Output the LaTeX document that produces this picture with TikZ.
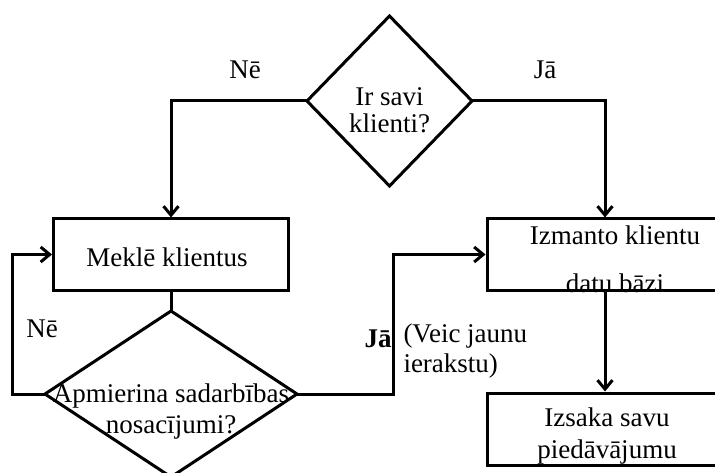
\documentclass[tikz,border=0pt]{standalone}
\usepackage{fontspec}
\setmainfont{Liberation Serif}
\usetikzlibrary{arrows.meta,shapes.geometric}
\begin{document}
\begin{tikzpicture}[x=1pt,y=-1pt,
  line width=3pt,
  lbl/.style={font=\fontsize{27}{32}\selectfont, inner sep=0pt},
  boxst/.style={draw, rectangle, inner sep=0pt},
  dia/.style={draw, diamond, inner sep=0pt, outer sep=0pt, aspect=1},
  arr/.style={-{Straight Barb[length=9pt,width=15pt,line width=3pt]}}
]
\useasboundingbox (0,0) rectangle (715,473);
\clip (0,0) rectangle (715,473);
\fill[white] (0,0) rectangle (715,473);

% top decision
\node[dia, minimum width=165pt, minimum height=170pt] (d1) at (389.5,101) {};
\node[lbl, align=center] (d1t) at (389.5,110) {Ir savi\\[-5pt]klienti?};

% boxes
\node[boxst, minimum width=235pt, minimum height=71pt] (b1) at (171,254.5) {};
\node[lbl] (b1t) at (167,257) {Meklē klientus};

\node[boxst, minimum width=236pt, minimum height=71pt] (b2) at (605,254.5) {};
\node[lbl] (b2t1) at (615,235) {Izmanto klientu};
\node[lbl] (b2t2) at (615,283) {datu bāzi};

\node[boxst, minimum width=236pt, minimum height=72pt] (b3) at (605,429) {};
\node[lbl, align=center] (b3t) at (607,436) {Izsaka savu\\piedāvājumu};

% bottom decision
\node[dia, minimum width=252pt, minimum height=166pt] (d2) at (171,394) {};
\node[lbl, align=center] (d2t) at (171,412) {Apmierina sadarbības\\[-1pt]nosacījumi?};

% connectors
\draw[arr] (d1.west) -| (b1.north);
\draw[arr] (d1.east) -| (b2.north);
\draw (b1.south) -- (d2.north);
\coordinate (lp) at (12,394);
\draw[arr] (d2.west) -- (lp) |- (b1.west);
\coordinate (rp) at (393,394);
\draw[arr] (d2.east) -- (rp) |- (b2.west);
\draw[arr] (b2.south) -- (b3.north);

% labels
\node[lbl] (l1) at (245,70) {Nē};
\node[lbl] (l2) at (545,70) {Jā};
\node[lbl] (l3) at (42,329) {Nē};
\node[lbl, anchor=east] (l4) at (393,339) {\textbf{Jā}};
\node[lbl, anchor=north west, align=left] (l5) at (402,322) {(Veic jaunu\\[-2pt]ierakstu)};
\end{tikzpicture}
\end{document}
